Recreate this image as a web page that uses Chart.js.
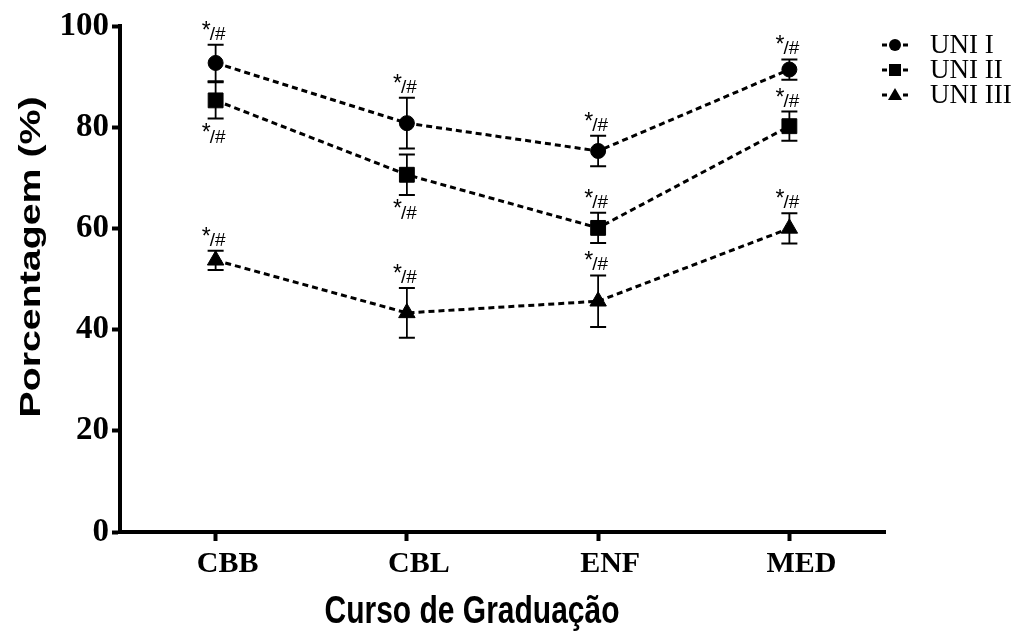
<!DOCTYPE html>
<html>
<head>
<meta charset="utf-8">
<script src="https://cdn.jsdelivr.net/npm/chart.js@4.4.0/dist/chart.umd.min.js"></script>
<style>
  html, body { margin: 0; padding: 0; background: #fff; }
</style>
</head>
<body>
<canvas id="chart" width="1014" height="639"></canvas>
<script>
// values (mean and error bar half-length, %)
const cursos = ['CBB', 'CBL', 'ENF', 'MED'];
const uni1 = [92.7, 80.8, 75.3, 91.4];
const uni1Err = [3.6, 5.0, 3.0, 2.0];
const uni2 = [85.3, 70.6, 60.1, 80.2];
const uni2Err = [3.6, 4.0, 3.0, 2.9];
const uni3 = [53.7, 43.3, 45.6, 60.0];
const uni3Err = [1.9, 4.9, 5.1, 3.0];
// where the "*/#" mark sits on each point
const uni1Mark = ['up', 'up', 'up', 'up'];
const uni2Mark = ['down', 'down', 'up', 'up'];
const uni3Mark = ['up', 'up', 'up', 'up'];
const yTicks = [0, 20, 40, 60, 80, 100];
const xTitle = 'Curso de Graduação';
const yTitle = 'Porcentagem (%)';

function serie(label, data, errors, marks, style, radius) {
    return {
        label: label,
        data: data,
        errors: errors,
        marks: marks,
        borderColor: '#000',
        backgroundColor: '#000',
        borderWidth: 3,
        borderDash: [6, 4],
        pointStyle: style,
        pointRadius: radius,
        pointBackgroundColor: '#000',
        pointBorderColor: '#000',
        pointBorderWidth: 1,
        fill: false,
        tension: 0
    };
}

// error bars behind the markers, "*/#" marks on top
const errorBars = {
    id: 'errorBars',
    beforeDatasetsDraw(chart) {
        const ctx = chart.ctx;
        const y = chart.scales.y;
        ctx.save();
        ctx.strokeStyle = '#000';
        chart.data.datasets.forEach((ds, i) => {
            chart.getDatasetMeta(i).data.forEach((pt, j) => {
                const top = y.getPixelForValue(ds.data[j] + ds.errors[j]);
                const bot = y.getPixelForValue(ds.data[j] - ds.errors[j]);
                ctx.lineWidth = 1.8;
                ctx.beginPath();
                ctx.moveTo(pt.x, top);
                ctx.lineTo(pt.x, bot);
                ctx.stroke();
                ctx.lineWidth = 2;
                ctx.beginPath();
                ctx.moveTo(pt.x - 8, top);
                ctx.lineTo(pt.x + 8, top);
                ctx.moveTo(pt.x - 8, bot);
                ctx.lineTo(pt.x + 8, bot);
                ctx.stroke();
            });
        });
        ctx.restore();
    },
    afterDatasetsDraw(chart) {
        const ctx = chart.ctx;
        const y = chart.scales.y;
        ctx.save();
        ctx.fillStyle = '#000';
        ctx.textAlign = 'left';
        ctx.textBaseline = 'alphabetic';
        chart.data.datasets.forEach((ds, i) => {
            chart.getDatasetMeta(i).data.forEach((pt, j) => {
                let starY, hashY;
                if (ds.marks[j] === 'up') {
                    const top = y.getPixelForValue(ds.data[j] + ds.errors[j]);
                    starY = top - 7;
                    hashY = top - 5;
                } else {
                    const bot = y.getPixelForValue(ds.data[j] - ds.errors[j]);
                    starY = bot + 21;
                    hashY = bot + 24;
                }
                ctx.font = '23px "Liberation Sans"';
                ctx.fillText('*', pt.x - 14, starY);
                ctx.font = '19px "Liberation Sans"';
                ctx.fillText('/#', pt.x - 6, hashY);
            });
        });
        ctx.restore();
    }
};

// axis titles (the figure is a bit stretched vertically)
const axisTitles = {
    id: 'axisTitles',
    afterDraw(chart) {
        const ctx = chart.ctx;
        ctx.save();
        ctx.fillStyle = '#000';
        ctx.textAlign = 'center';
        ctx.textBaseline = 'middle';
        ctx.font = 'bold 30px "Liberation Sans"';
        ctx.save();
        ctx.translate(472, 612);
        ctx.scale(1, 1.3);
        ctx.fillText(xTitle, 0, 0);
        ctx.restore();
        ctx.save();
        ctx.translate(32, 257);
        ctx.rotate(-Math.PI / 2);
        ctx.scale(1.31, 1);
        ctx.fillText(yTitle, 0, 0);
        ctx.restore();
        ctx.restore();
    }
};

// legend: -marker- label
const sideLegend = {
    id: 'sideLegend',
    afterDraw(chart) {
        const ctx = chart.ctx;
        ctx.save();
        chart.data.datasets.forEach((ds, i) => {
            const cy = 45 + i * 25;
            const cx = 895;
            ctx.strokeStyle = '#000';
            ctx.fillStyle = '#000';
            ctx.lineWidth = 3;
            ctx.beginPath();
            ctx.moveTo(882, cy);
            ctx.lineTo(887, cy);
            ctx.moveTo(903, cy);
            ctx.lineTo(908, cy);
            ctx.stroke();
            ctx.beginPath();
            if (ds.pointStyle === 'circle') {
                ctx.arc(cx, cy, 6, 0, Math.PI * 2);
            } else if (ds.pointStyle === 'rect') {
                ctx.rect(cx - 6, cy - 6, 12, 12);
            } else {
                ctx.moveTo(cx, cy - 7);
                ctx.lineTo(cx + 7, cy + 5);
                ctx.lineTo(cx - 7, cy + 5);
                ctx.closePath();
            }
            ctx.fill();
            ctx.font = '27px "Liberation Serif"';
            ctx.textBaseline = 'middle';
            ctx.textAlign = 'left';
            ctx.fillText(ds.label, 930, cy + 1);
        });
        ctx.restore();
    }
};

new Chart(document.getElementById('chart'), {
    type: 'line',
    data: {
        labels: cursos,
        datasets: [
            serie('UNI I', uni1, uni1Err, uni1Mark, 'circle', 7.5),
            serie('UNI II', uni2, uni2Err, uni2Mark, 'rect', 10.5),
            serie('UNI III', uni3, uni3Err, uni3Mark, 'triangle', 9.5)
        ]
    },
    options: {
        responsive: false,
        animation: false,
        devicePixelRatio: 1,
        layout: {
            padding: { left: 0, right: 129, top: 26, bottom: 0 }
        },
        plugins: {
            legend: { display: false },
            tooltip: { enabled: false }
        },
        scales: {
            x: {
                type: 'category',
                offset: true,
                border: { display: true, color: '#000', width: 4 },
                grid: {
                    display: true,
                    drawOnChartArea: false,
                    drawTicks: true,
                    tickLength: 9,
                    tickWidth: 4,
                    tickColor: '#000'
                },
                ticks: {
                    color: '#000',
                    padding: 5,
                    labelOffset: 12,
                    maxRotation: 0,
                    autoSkip: false,
                    font: { family: 'Liberation Serif', size: 30, weight: 'bold' }
                },
                afterFit: function(scale) {
                    scale.height = 107;
                }
            },
            y: {
                type: 'linear',
                min: 0,
                max: 100,
                border: { display: true, color: '#000', width: 4 },
                grid: {
                    display: true,
                    drawOnChartArea: false,
                    drawTicks: true,
                    tickLength: 8,
                    tickWidth: 4,
                    tickColor: '#000'
                },
                ticks: {
                    color: '#000',
                    padding: 3,
                    font: { family: 'Liberation Serif', size: 33, weight: 'bold' }
                },
                afterBuildTicks: function(scale) {
                    scale.ticks = yTicks.map(v => ({ value: v }));
                },
                afterFit: function(scale) {
                    scale.width = 120;
                }
            }
        }
    },
    plugins: [errorBars, axisTitles, sideLegend]
});
</script>
</body>
</html>
